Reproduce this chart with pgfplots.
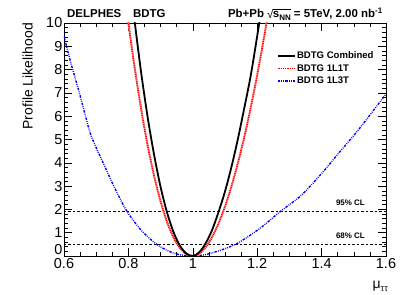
\documentclass[border=0pt]{standalone}
\usepackage{fontspec}
\setmainfont{Liberation Sans}
\usepackage{amsmath}
\usepackage{pgfplots}
\pgfplotsset{compat=1.18}
\begin{document}
\begin{tikzpicture}
\path (-64bp,-39bp) rectangle (343bp,256bp);
\begin{axis}[
  at={(0,0)}, anchor=south west,
  scale only axis, width=322bp, height=233bp,
  xmin=0.6, xmax=1.6, ymin=0, ymax=10,
  xtick={0.6,0.8,1,1.2,1.4,1.6},
  ytick={0,1,2,3,4,5,6,7,8,9,10},
  yticklabels={\raisebox{1bp}[0pt][0pt]{0},1,2,3,4,5,6,7,8,9,10},
  minor x tick num=3, minor y tick num=4,
  tick align=inside,
  major tick length=8bp, minor tick length=4bp,
  every tick/.style={black, line width=0.5bp},
  axis line style={line width=0.6bp},
  /pgf/number format/assume math mode=true,
  ticklabel style={font=\fontsize{14.5}{15}\selectfont},
  xticklabel style={inner sep=0bp, yshift=-2bp},
  yticklabel style={inner sep=0bp, xshift=-1.5bp},
  legend style={at={(0.660,0.886)}, anchor=north west, draw=none, fill=none,
    inner sep=0pt, font=\bfseries\fontsize{9.6}{10}\selectfont,
    nodes={text height=7.5bp, text depth=2bp, inner sep=1.5bp},
    row sep=0pt},
  legend cell align=left,
  legend image code/.code={\draw[#1] (0bp,0bp) -- (17bp,0bp);},
  clip=true,
]
\addlegendimage{black, line width=1.8bp}
\addlegendimage{red, line width=1.8bp, dash pattern=on 0.9bp off 0.9bp}
\addlegendimage{blue, line width=1.4bp, dash pattern=on 2.5bp off 1.2bp on 0.8bp off 1.2bp on 0.8bp off 1.2bp}
\legend{BDTG Combined, BDTG 1L1T, BDTG 1L3T}

% CL lines
\addplot[black, line width=0.5bp, dash pattern=on 2.5bp off 2bp, forget plot] coordinates {(0.6,1.92) (1.6,1.92)};
\addplot[black, line width=0.5bp, dash pattern=on 2.5bp off 2bp, forget plot] coordinates {(0.6,0.5) (1.6,0.5)};

% BDTG 1L3T
\addplot[blue, line width=1.4bp, smooth, dash pattern=on 2.5bp off 1.2bp on 0.8bp off 1.2bp on 0.8bp off 1.2bp, forget plot] coordinates {
(0.6,9.45) (0.62,8.35) (0.6435,7.21) (0.665,6.1) (0.685,5.14) (0.727,3.83) (0.76,2.85)
(0.795,1.93) (0.84,1.1) (0.888,0.5) (0.93,0.18) (0.965,0.04) (1.0,0)
(1.04,0.06) (1.08,0.22) (1.116,0.40) (1.147,0.61) (1.209,1.19) (1.271,1.90)
(1.338,2.62) (1.405,3.62) (1.457,4.48) (1.514,5.41) (1.6,6.95)};

% BDTG 1L1T
\addplot[red!35, line width=1.8bp, smooth, forget plot] coordinates {
(0.79,11.1) (0.80,10) (0.82,8.03) (0.84,6.27) (0.86,4.73) (0.88,3.43) (0.90,2.34)
(0.92,1.46) (0.94,0.80) (0.96,0.34) (0.98,0.08) (1.0,0)
(1.02,0.105) (1.04,0.38) (1.06,0.82) (1.08,1.40) (1.10,2.12) (1.12,2.99) (1.14,3.99)
(1.16,5.11) (1.18,6.38) (1.20,7.77) (1.22,9.29) (1.24,10.9)};
\addplot[red, line width=1.8bp, smooth, dash pattern=on 0.9bp off 0.9bp, forget plot] coordinates {
(0.79,11.1) (0.80,10) (0.82,8.03) (0.84,6.27) (0.86,4.73) (0.88,3.43) (0.90,2.34)
(0.92,1.46) (0.94,0.80) (0.96,0.34) (0.98,0.08) (1.0,0)
(1.02,0.105) (1.04,0.38) (1.06,0.82) (1.08,1.40) (1.10,2.12) (1.12,2.99) (1.14,3.99)
(1.16,5.11) (1.18,6.38) (1.20,7.77) (1.22,9.29) (1.24,10.9)};

% BDTG Combined
\addplot[black, line width=1.8bp, smooth, forget plot] coordinates {
(0.81,11.2) (0.82,10) (0.84,7.83) (0.86,5.94) (0.88,4.33) (0.90,2.96) (0.92,1.87)
(0.94,1.03) (0.96,0.445) (0.98,0.106) (1.0,0)
(1.02,0.16) (1.04,0.55) (1.06,1.12) (1.08,1.89) (1.10,2.77) (1.12,3.82) (1.14,5.02)
(1.16,6.36) (1.18,7.75) (1.20,9.44) (1.22,11.2)};

\node[anchor=base east, inner sep=0pt, font=\bfseries\fontsize{8}{8}\selectfont] at (axis cs:1.5348,2.146) {95\% CL};
\node[anchor=base east, inner sep=0pt, font=\bfseries\fontsize{8}{8}\selectfont] at (axis cs:1.5348,0.77) {68\% CL};
\end{axis}
\node[anchor=base west, inner sep=0pt, font=\bfseries\fontsize{11.5}{12}\selectfont] at (3bp,238.7bp) {DELPHES};
\node[anchor=base west, inner sep=0pt, font=\bfseries\fontsize{11.5}{12}\selectfont] at (69bp,238.7bp) {BDTG};
\node[anchor=base east, inner sep=0pt, font=\bfseries\fontsize{11.5}{12}\selectfont] at (319bp,238.2bp) {Pb+Pb \raisebox{-0.5bp}{\fontseries{m}\selectfont √}\kern-0.6bp\vbox{\hrule height 0.6bp\kern0.6bp\hbox{\vphantom{H}s\raisebox{-2.5bp}{\fontsize{8}{8}\selectfont NN}}} = 5TeV, 2.00 nb\textsuperscript{-1}};
\node[rotate=90, anchor=south east, inner sep=0pt, font=\fontsize{14}{14}\selectfont] at (-31bp,233bp) {Profile Likelihood};
\node[anchor=base east, inner sep=0pt] at (324bp,-32bp) {\fontsize{14}{14}\selectfont μ\raisebox{-3bp}{\fontsize{9}{9}\selectfont ττ}};
\end{tikzpicture}
\end{document}
